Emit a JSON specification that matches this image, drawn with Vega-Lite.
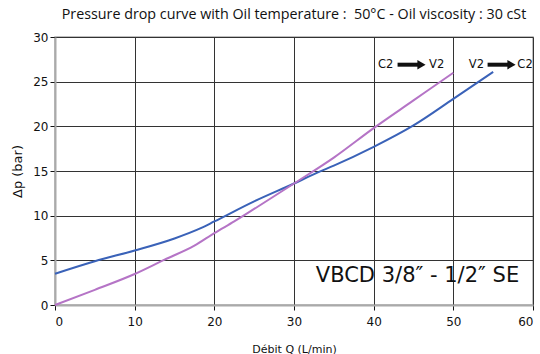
{
  "$schema": "https://vega.github.io/schema/vega-lite/v6.json",
  "width": 478,
  "height": 268,
  "autosize": {"type": "none"},
  "padding": {"left": 55, "top": 37, "right": 7, "bottom": 49},
  "background": "white",
  "title": {
    "text": "Pressure drop curve with Oil temperature :\u00a0\u00a050°C - Oil viscosity : 30 cSt",
    "font": "Open Sans",
    "fontSize": 14.3,
    "fontWeight": "normal",
    "color": "#111",
    "anchor": "middle",
    "offset": 9
  },
  "config": {
    "view": {"stroke": "#aaa", "strokeWidth": 1.5},
    "axis": {
      "labelFont": "DejaVu Sans",
      "titleFont": "DejaVu Sans",
      "labelColor": "#111",
      "titleColor": "#111",
      "labelFontSize": 12,
      "domainColor": "#aaa",
      "domainWidth": 2,
      "tickColor": "#111",
      "tickSize": 5,
      "gridColor": "#333",
      "gridWidth": 1
    }
  },
  "datasets": {
    "curves": [
      {"q": 0, "dp": 3.5, "dir": "V2 → C2"},
      {"q": 5, "dp": 4.9, "dir": "V2 → C2"},
      {"q": 10, "dp": 6.1, "dir": "V2 → C2"},
      {"q": 15, "dp": 7.45, "dir": "V2 → C2"},
      {"q": 18.3, "dp": 8.6, "dir": "V2 → C2"},
      {"q": 20, "dp": 9.35, "dir": "V2 → C2"},
      {"q": 25, "dp": 11.6, "dir": "V2 → C2"},
      {"q": 30, "dp": 13.6, "dir": "V2 → C2"},
      {"q": 33, "dp": 14.85, "dir": "V2 → C2"},
      {"q": 35, "dp": 15.6, "dir": "V2 → C2"},
      {"q": 40, "dp": 17.7, "dir": "V2 → C2"},
      {"q": 45, "dp": 20.1, "dir": "V2 → C2"},
      {"q": 50, "dp": 23.07, "dir": "V2 → C2"},
      {"q": 55, "dp": 26.1, "dir": "V2 → C2"},
      {"q": 0, "dp": 0, "dir": "C2 → V2"},
      {"q": 5, "dp": 1.7, "dir": "C2 → V2"},
      {"q": 10, "dp": 3.47, "dir": "C2 → V2"},
      {"q": 13.75, "dp": 5.07, "dir": "C2 → V2"},
      {"q": 17.5, "dp": 6.64, "dir": "C2 → V2"},
      {"q": 20, "dp": 8.05, "dir": "C2 → V2"},
      {"q": 22.5, "dp": 9.36, "dir": "C2 → V2"},
      {"q": 25, "dp": 10.75, "dir": "C2 → V2"},
      {"q": 30, "dp": 13.6, "dir": "C2 → V2"},
      {"q": 35, "dp": 16.5, "dir": "C2 → V2"},
      {"q": 40, "dp": 19.8, "dir": "C2 → V2"},
      {"q": 45, "dp": 22.9, "dir": "C2 → V2"},
      {"q": 50, "dp": 26.0, "dir": "C2 → V2"}
    ],
    "labels": [
      {"q": 41.5, "dp": 26.9, "t": "C2", "size": 11.5},
      {"q": 47.9, "dp": 26.9, "t": "V2", "size": 11.5},
      {"q": 52.9, "dp": 26.9, "t": "V2", "size": 11.5},
      {"q": 59.0, "dp": 26.9, "t": "C2", "size": 11.5},
      {"q": 45.5, "dp": 3.2, "t": "VBCD 3/8″ - 1/2″ SE", "size": 21}
    ],
    "arrows": [
      {"q1": 43.0, "q2": 45.6, "head": 46.0, "dp": 26.9},
      {"q1": 54.3, "q2": 56.9, "head": 57.3, "dp": 26.9}
    ]
  },
  "layer": [
    {
      "data": {"name": "curves"},
      "mark": {"type": "line", "interpolate": "monotone", "strokeWidth": 2},
      "encoding": {
        "x": {
          "field": "q", "type": "quantitative",
          "scale": {"domain": [0, 60], "nice": false},
          "axis": {"values": [0, 10, 20, 30, 40, 50, 60], "title": "Débit Q (L/min)", "titleFontSize": 11, "titleFontWeight": "normal", "titlePadding": 16, "labelPadding": 6}
        },
        "y": {
          "field": "dp", "type": "quantitative",
          "scale": {"domain": [0, 30], "nice": false},
          "axis": {"values": [0, 5, 10, 15, 20, 25, 30], "title": "Δp (bar)", "titleFontSize": 13, "titleFontWeight": "normal", "titlePadding": 8}
        },
        "color": {
          "field": "dir", "type": "nominal",
          "scale": {"domain": ["V2 → C2", "C2 → V2"], "range": ["#3a62b8", "#b574c6"]},
          "legend": null
        }
      }
    },
    {
      "data": {"name": "arrows"},
      "mark": {"type": "rule", "strokeWidth": 4, "color": "#111"},
      "encoding": {
        "x": {"field": "q1", "type": "quantitative"},
        "x2": {"field": "q2"},
        "y": {"field": "dp", "type": "quantitative"}
      }
    },
    {
      "data": {"name": "arrows"},
      "mark": {"type": "point", "shape": "triangle-right", "filled": true, "color": "#111", "size": 90, "opacity": 1},
      "encoding": {
        "x": {"field": "head", "type": "quantitative"},
        "y": {"field": "dp", "type": "quantitative"}
      }
    },
    {
      "data": {"name": "labels"},
      "mark": {"type": "text", "font": "DejaVu Sans", "color": "#111", "align": "center", "baseline": "middle"},
      "encoding": {
        "x": {"field": "q", "type": "quantitative"},
        "y": {"field": "dp", "type": "quantitative"},
        "text": {"field": "t"},
        "size": {"field": "size", "type": "quantitative", "scale": null}
      }
    }
  ]
}
